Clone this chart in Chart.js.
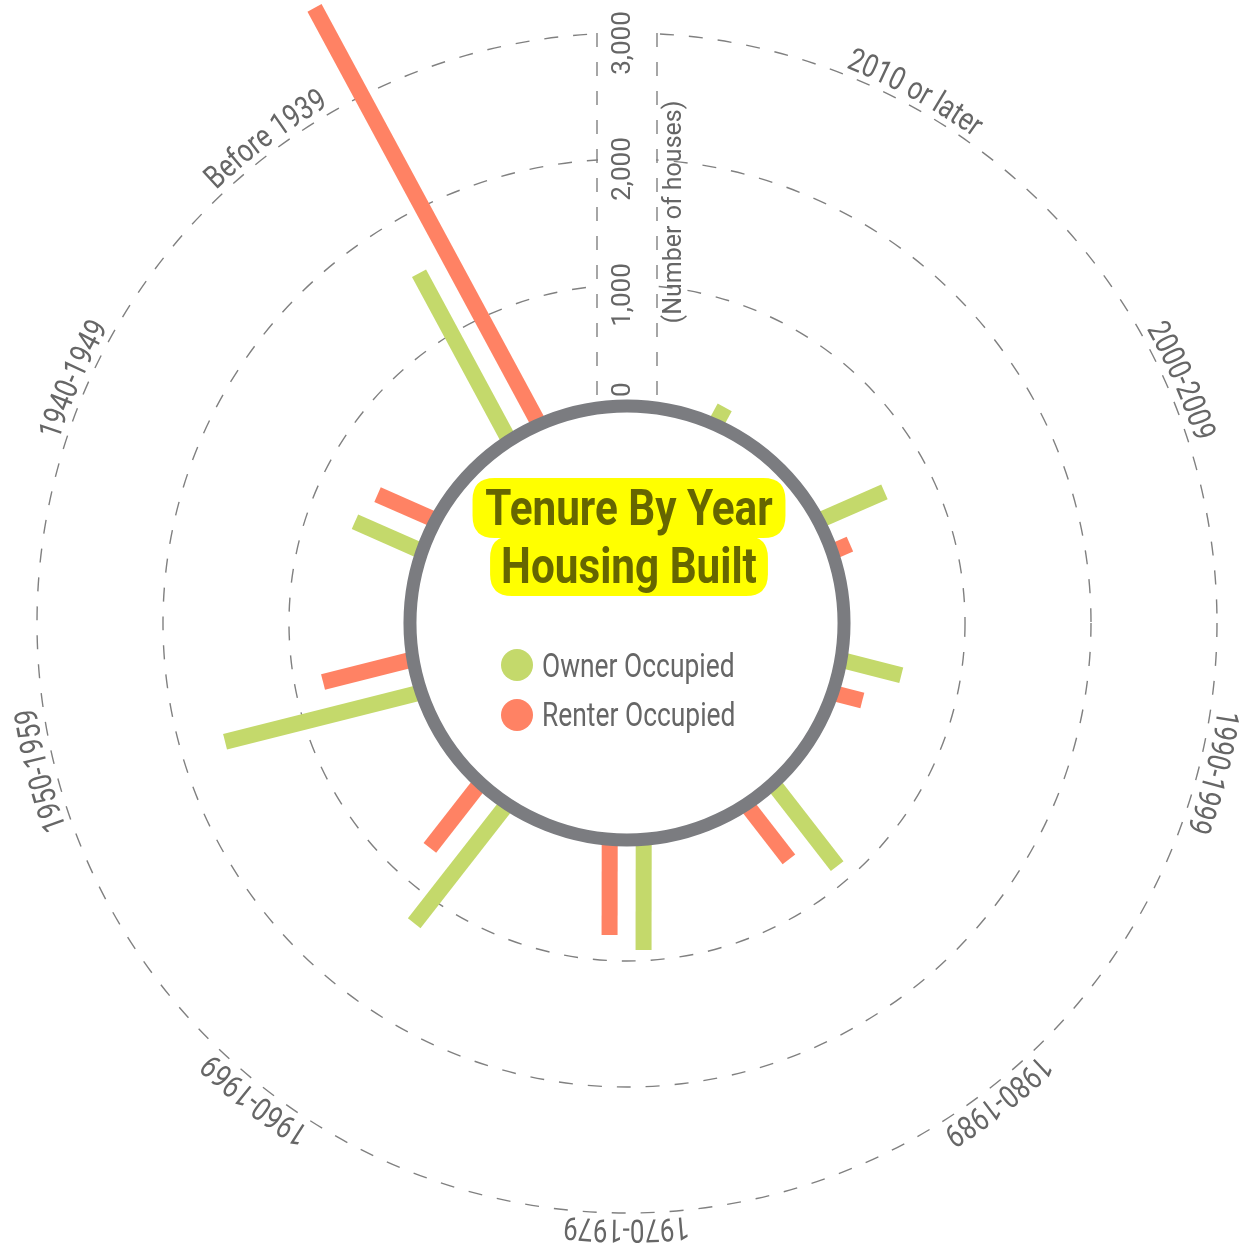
<!DOCTYPE html>
<html>
<head>
<meta charset="utf-8">
<script src="https://cdn.jsdelivr.net/npm/chart.js@4.4.1/dist/chart.umd.min.js"></script>
<style>
  html, body { margin: 0; padding: 0; background: #ffffff; }
  #c { display: block; }
</style>
</head>
<body>
<canvas id="c" width="1253" height="1249"></canvas>
<script>
// ---------------- data ----------------
const categories = ['2010 or later', '2000-2009', '1990-1999', '1980-1989', '1970-1979',
                    '1960-1969', '1950-1959', '1940-1949', 'Before 1939'];
const ownerOccupied  = [191, 606, 529, 864, 913, 1235, 1641, 617, 1544];
const renterOccupied = [40, 189, 279, 587, 794, 687, 771, 540, 3792];
const seriesNames = ['Owner Occupied', 'Renter Occupied'];
const tickValues = [0, 1000, 2000, 3000];
const tickLabels = ['0', '1,000', '2,000', '3,000'];
const axisTitle = '(Number of houses)';
const titleLines = ['Tenure By Year', 'Housing Built'];

// ---------------- styles ----------------
const GREEN = '#c4d96b';
const RED = '#ff8264';
const RING = '#7b7c80';
const GRID = '#808080';
const TEXT = '#666666';
const TITLE_TEXT = '#666600';
const YELLOW = '#ffff00';
const DASH = [14, 15];
const BAR_W = 16, BAR_OFF = 17;
const FONT = 'Roboto, "Noto Sans", sans-serif';

// Angular slots: each category is followed by a spacer slot, and two extra
// spacer slots leave the open gap at the top where the value axis sits.
const slotLabels = [], slotOwner = [], slotRenter = [], catSlot = [];
categories.forEach((c, i) => {
  if (i > 0) { slotLabels.push(''); slotOwner.push(null); slotRenter.push(null); }
  catSlot.push(slotLabels.length);
  slotLabels.push(c); slotOwner.push(ownerOccupied[i]); slotRenter.push(renterOccupied[i]);
});
slotLabels.push('', ''); slotOwner.push(null, null); slotRenter.push(null, null);

function drawScaledText(ctx, text, x, y, rot, sx, font, color, align, baseline) {
  ctx.save();
  ctx.translate(x, y);
  ctx.rotate(rot);
  ctx.scale(sx, 1);
  ctx.font = font; ctx.fillStyle = color;
  ctx.textAlign = align; ctx.textBaseline = baseline;
  ctx.fillText(text, 0, 0);
  ctx.restore();
}
function charWidths(ctx, text, font, sx) {
  ctx.save(); ctx.font = font;
  const w = Array.from(text).map(ch => ctx.measureText(ch).width * sx);
  ctx.restore();
  return w;
}
function arcText(ctx, text, cx, cy, R, phiStart, sx, font, color) {
  const ws = charWidths(ctx, text, font, sx);
  let acc = 0;
  Array.from(text).forEach((ch, k) => {
    const phi = phiStart + (acc + ws[k] / 2) / R;
    drawScaledText(ctx, ch, cx + R * Math.sin(phi), cy - R * Math.cos(phi), phi, sx, font, color, 'center', 'alphabetic');
    acc += ws[k];
  });
}
function roundRect(ctx, x, y, w, h, r) {
  ctx.beginPath();
  ctx.moveTo(x + r, y);
  ctx.lineTo(x + w - r, y);
  ctx.quadraticCurveTo(x + w, y, x + w, y + r);
  ctx.lineTo(x + w, y + h - r);
  ctx.quadraticCurveTo(x + w, y + h, x + w - r, y + h);
  ctx.lineTo(x + r, y + h);
  ctx.quadraticCurveTo(x, y + h, x, y + h - r);
  ctx.lineTo(x, y + r);
  ctx.quadraticCurveTo(x, y, x + r, y);
  ctx.closePath();
}

const radialBars = {
  id: 'radialBars',
  afterDatasetsDraw(chart) {
    const ctx = chart.ctx;
    const s = chart.scales.r;
    const cx = s.xCenter, cy = s.yCenter;
    const r0 = s.getDistanceFromCenterForValue(0);
    const rTop = s.getDistanceFromCenterForValue(tickValues[tickValues.length - 1]);

    // open strip for the value axis
    ctx.save();
    ctx.fillStyle = '#ffffff';
    ctx.fillRect(cx - 29, 0, 58, cy - r0);
    ctx.strokeStyle = GRID; ctx.lineWidth = 1.4; ctx.setLineDash(DASH);
    [-30, 30].forEach(dx => {
      ctx.beginPath();
      ctx.moveTo(cx + dx, cy - rTop);
      ctx.lineTo(cx + dx, cy - r0);
      ctx.stroke();
    });
    ctx.restore();

    // bars
    const colors = [GREEN, RED];
    categories.forEach((cat, i) => {
      const j = catSlot[i];
      [0, 1].forEach(d => {
        const el = chart.getDatasetMeta(d).data[j];
        const base = s.getPointPositionForValue(j, 0);
        const a = base.angle;
        const tx = -Math.sin(a), ty = Math.cos(a);
        const off = d === 0 ? -BAR_OFF : BAR_OFF;
        ctx.save();
        ctx.beginPath();
        ctx.moveTo(base.x + off * tx, base.y + off * ty);
        ctx.lineTo(el.x + off * tx, el.y + off * ty);
        ctx.strokeStyle = colors[d]; ctx.lineWidth = BAR_W; ctx.lineCap = 'butt';
        ctx.stroke();
        ctx.restore();
      });
    });

    // central ring
    ctx.save();
    ctx.beginPath();
    ctx.arc(cx, cy, r0 + 5, 0, Math.PI * 2);
    ctx.fillStyle = '#ffffff'; ctx.fill();
    ctx.strokeStyle = RING; ctx.lineWidth = 13; ctx.stroke();
    ctx.restore();

    // value-axis tick labels (rotated)
    const tickFont = '26px ' + FONT;
    const ringOuter = r0 + 12;
    tickValues.forEach((v, k) => {
      const w = charWidths(ctx, tickLabels[k], tickFont, 1).reduce((p, q) => p + q, 0);
      const rc = Math.max(s.getDistanceFromCenterForValue(v) - 10, ringOuter + w / 2 + 2);
      drawScaledText(ctx, tickLabels[k], cx - 4, cy - rc, -Math.PI / 2, 1, tickFont, TEXT, 'center', 'middle');
    });
    const rMid = (s.getDistanceFromCenterForValue(tickValues[1]) + s.getDistanceFromCenterForValue(tickValues[2])) / 2;
    drawScaledText(ctx, axisTitle, cx + 48, cy - rMid - 10, -Math.PI / 2, 1, '25px ' + FONT, TEXT, 'center', 'middle');

    // category labels along the outer ring
    const labFont = '32px ' + FONT, labSx = 0.81;
    const R = rTop + 7;
    categories.forEach((cat, i) => {
      const j = catSlot[i];
      const phi = s.getIndexAngle(j);
      const W = charWidths(ctx, cat, labFont, labSx).reduce((p, q) => p + q, 0);
      let start = phi - (W / 2) / R;
      const labelValue = tickValues[tickValues.length - 1] + 7 / (s.drawingArea / (s.max - s.min));
      if (renterOccupied[i] > labelValue) start = phi - BAR_OFF / R - W / R;        // move away from long renter bar
      else if (ownerOccupied[i] > labelValue) start = phi + BAR_OFF / R;            // move away from long owner bar
      arcText(ctx, cat, cx, cy, R, start, labSx, labFont, TEXT);
    });

    // title with highlighter pills
    const tFont = 'bold 50px ' + FONT, tSx = 0.845;
    const baselines = [cy - 98, cy - 40];
    ctx.save();
    ctx.fillStyle = YELLOW;
    titleLines.forEach((t, k) => {
      const w = charWidths(ctx, t, tFont, tSx).reduce((p, q) => p + q, 0);
      roundRect(ctx, cx + 2 - w / 2 - 11, baselines[k] - 47, w + 22, 60, 22);
      ctx.fill();
    });
    ctx.restore();
    titleLines.forEach((t, k) => {
      drawScaledText(ctx, t, cx + 2, baselines[k], 0, tSx, tFont, TITLE_TEXT, 'center', 'alphabetic');
    });

    // legend
    const legFont = '33px ' + FONT;
    [[GREEN, cy + 42, cy + 54], [RED, cy + 92, cy + 103]].forEach(([col, yc, yb], k) => {
      ctx.save();
      ctx.beginPath(); ctx.arc(cx - 110, yc, 16, 0, Math.PI * 2);
      ctx.fillStyle = col; ctx.fill();
      ctx.restore();
      drawScaledText(ctx, seriesNames[k], cx - 85, yb, 0, 0.8, legFont, TEXT, 'left', 'alphabetic');
    });
  }
};

function build() {
  new Chart(document.getElementById('c'), {
    type: 'radar',
    data: {
      labels: slotLabels,
      datasets: [
        { label: seriesNames[0], data: slotOwner, showLine: false, borderWidth: 0,
          borderColor: 'rgba(0,0,0,0)', backgroundColor: GREEN, pointRadius: 0, fill: false, clip: false },
        { label: seriesNames[1], data: slotRenter, showLine: false, borderWidth: 0,
          borderColor: 'rgba(0,0,0,0)', backgroundColor: RED, pointRadius: 0, fill: false, clip: false }
      ]
    },
    options: {
      responsive: false,
      animation: false,
      devicePixelRatio: 1,
      events: [],
      layout: { padding: { left: 1, right: 0, top: 0, bottom: 3 } },
      plugins: { legend: { display: false }, tooltip: { enabled: false }, title: { display: false } },
      scales: {
        r: {
          startAngle: 28.5,
          min: -1683,
          max: 3262,
          afterBuildTicks: (scale) => { scale.ticks = tickValues.map(v => ({ value: v })); },
          ticks: { display: false },
          grid: {
            circular: true,
            lineWidth: 1.4,
            color: (c) => (c.tick && c.tick.value === 0) ? 'rgba(0,0,0,0)' : GRID
          },
          border: { dash: DASH },
          angleLines: { display: false },
          pointLabels: { display: false }
        }
      }
    },
    plugins: [radialBars]
  });
}

const fontsReady = document.fonts && document.fonts.load
  ? Promise.all([document.fonts.load('32px Roboto'), document.fonts.load('bold 50px Roboto')]).catch(() => {})
  : Promise.resolve();
Promise.race([fontsReady, new Promise(r => setTimeout(r, 800))]).then(build);
</script>
</body>
</html>
